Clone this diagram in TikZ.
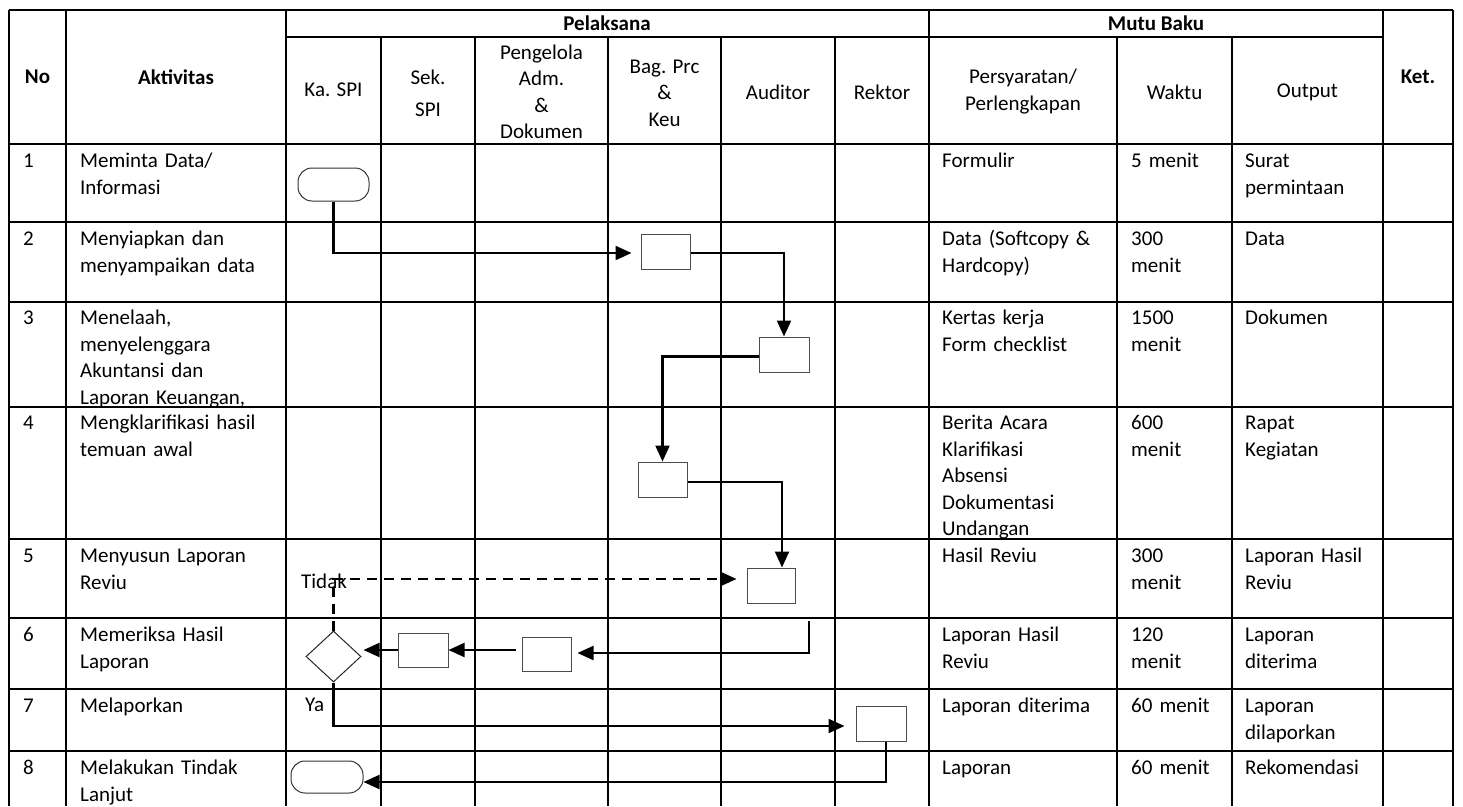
\documentclass[tikz,border=0pt]{standalone}
\usepackage{fontspec}
\setmainfont{Carlito}
\usetikzlibrary{arrows.meta,calc,shapes.geometric}
\begin{document}
\begin{tikzpicture}[x=1pt,y=-1pt,
  font=\fontsize{21}{26.5}\selectfont,
  grid/.style={line width=2pt},
  cell/.style={anchor=north west, inner sep=0pt, text width=210pt, align=left},
  head/.style={inner sep=0pt, align=center},
  box/.style={draw=black!70, line width=1pt, minimum width=49pt, minimum height=35pt, inner sep=0pt},
  term/.style={draw=black!80, line width=1pt, rounded corners=14pt, minimum width=71pt, minimum height=33pt, inner sep=0pt},
  dec/.style={diamond, draw=black!85, line width=1pt, minimum width=55pt, minimum height=51pt, inner sep=0pt},
  conn/.style={line width=2.2pt, -{Triangle[length=16pt,width=14pt]}},
  dconn/.style={conn, dash pattern=on 10pt off 7pt},
]
\useasboundingbox (0,0) rectangle (1463,806);
\fill[white] (0,0) rectangle (1463,806);

% ---------- grid ----------
\foreach \yy in {10,144,222,302,407,539,618,689,751}
  \draw[grid] (9,\yy) -- (1453,\yy);
\draw[grid] (286,37) -- (1383,37);
\foreach \xx in {9,66,286,929,1383,1453}
  \draw[grid] (\xx,10) -- (\xx,806);
\foreach \xx in {381,475,608,721,835,1117,1232}
  \draw[grid] (\xx,37) -- (\xx,806);

% ---------- header ----------
\node[head] (hNo)  at (37.5,77) {\textbf{No}};
\node[head] (hAkt) at (176,77) {\textbf{Aktivitas}};
\node[head] (hPel) at (607,23.5) {\textbf{Pelaksana}};
\node[head] (hMut) at (1156,23.5) {\textbf{Mutu Baku}};
\node[head] (hKet) at (1418,77) {\textbf{Ket.}};
\node[head] (hKa)  at (333.5,90) {Ka. SPI};
\node[head] (hSek) at (428,93.5) {Sek.\\[6pt]SPI};
\node[head] (hPen) at (541.5,92) {Pengelola\\Adm.\\\&\\Dokumen};
\node[head] (hBag) at (664.5,93) {Bag. Prc\\\&\\Keu};
\node[head] (hAud) at (778,92) {Auditor};
\node[head] (hRek) at (882,92) {Rektor};
\node[head] (hPer) at (1023,91.5) {Persyaratan/\\Perlengkapan};
\node[head] (hWak) at (1174.5,92) {Waktu};
\node[head] (hOut) at (1307.5,92) {Output};

% ---------- rows ----------
% row 1
\node[cell] (n1) at (23,149) {\strut 1};
\node[cell] (a1) at (80,149) {\strut Meminta Data/\\Informasi};
\node[cell] (p1) at (942,149) {\strut Formulir};
\node[cell] (w1) at (1131,149) {\strut 5 menit};
\node[cell] (o1) at (1245,149) {\strut Surat\\permintaan};
% row 2
\node[cell] (n2) at (23,227) {\strut 2};
\node[cell] (a2) at (80,227) {\strut Menyiapkan dan\\menyampaikan data};
\node[cell] (p2) at (942,227) {\strut Data (Softcopy \&\\Hardcopy)};
\node[cell] (w2) at (1131,227) {\strut 300\\menit};
\node[cell] (o2) at (1245,227) {\strut Data};
% row 3
\node[cell] (n3) at (23,306) {\strut 3};
\node[cell] (a3) at (80,306) {\strut Menelaah,\\menyelenggara\\Akuntansi dan\\Laporan Keuangan,};
\node[cell] (p3) at (942,306) {\strut Kertas kerja\\Form checklist};
\node[cell] (w3) at (1131,306) {\strut 1500\\menit};
\node[cell] (o3) at (1245,306) {\strut Dokumen};
% row 4
\node[cell] (n4) at (23,411) {\strut 4};
\node[cell] (a4) at (80,411) {\strut Mengklarifikasi hasil\\temuan awal};
\node[cell] (p4) at (942,411) {\strut Berita Acara\\Klarifikasi\\Absensi\\Dokumentasi\\Undangan};
\node[cell] (w4) at (1131,411) {\strut 600\\menit};
\node[cell] (o4) at (1245,411) {\strut Rapat\\Kegiatan};
% row 5
\node[cell] (n5) at (23,544) {\strut 5};
\node[cell] (a5) at (80,544) {\strut Menyusun Laporan\\Reviu};
\node[cell] (p5) at (942,544) {\strut Hasil Reviu};
\node[cell] (w5) at (1131,544) {\strut 300\\menit};
\node[cell] (o5) at (1245,544) {\strut Laporan Hasil\\Reviu};
% row 6
\node[cell] (n6) at (23,623) {\strut 6};
\node[cell] (a6) at (80,623) {\strut Memeriksa Hasil\\Laporan};
\node[cell] (p6) at (942,623) {\strut Laporan Hasil\\Reviu};
\node[cell] (w6) at (1131,623) {\strut 120\\menit};
\node[cell] (o6) at (1245,623) {\strut Laporan\\diterima};
% row 7
\node[cell] (n7) at (23,694) {\strut 7};
\node[cell] (a7) at (80,694) {\strut Melaporkan};
\node[cell] (p7) at (942,694) {\strut Laporan diterima};
\node[cell] (w7) at (1131,694) {\strut 60 menit};
\node[cell] (o7) at (1245,694) {\strut Laporan\\dilaporkan};
% row 8
\node[cell] (n8) at (23,756) {\strut 8};
\node[cell] (a8) at (80,756) {\strut Melakukan Tindak\\Lanjut};
\node[cell] (p8) at (942,756) {\strut Laporan};
\node[cell] (w8) at (1131,756) {\strut 60 menit};
\node[cell] (o8) at (1245,756) {\strut Rekomendasi};

% ---------- flow shapes ----------
\node[term] (t1) at (333.5,184.5) {};
\node[box] (b2) at (665.5,251.5) {};
\node[box, minimum width=50pt] (b3) at (784,354.5) {};
\node[box] (b4) at (662.5,479.5) {};
\node[box, minimum width=48pt] (b5) at (771,585.5) {};
\node[dec] (d6) at (333.5,656.5) {};
\node[box, minimum width=50pt, minimum height=34pt] (b6a) at (423,650) {};
\node[box, minimum height=34pt] (b6b) at (546.5,654) {};
\node[box, minimum width=50pt] (b7) at (881,723.5) {};
\node[term, minimum width=72pt, minimum height=32pt] (t8) at (327,777) {};
\coordinate (c5) at (809,621);

% ---------- labels ----------
\node[anchor=west, inner sep=0pt] (lTidak) at (301,581) {Tidak};
\node[anchor=west, inner sep=0pt] (lYa) at (305,705) {Ya};

% ---------- connectors ----------
\draw[conn, shorten >=9pt] (t1.south) |- ([yshift=-1.5pt]b2.west);
\draw[conn] ([yshift=-1.5pt]b2.east) -| (b3.north);
\draw[conn] ([yshift=-2pt]b3.west) -| (b4.north);
\draw[conn] ([yshift=-2.5pt]b4.east) -| ([xshift=11pt]b5.north);
\draw[dconn, shorten >=10pt] (d6.north) |- ([yshift=6.5pt]b5.west);
\draw[conn, shorten >=6pt] (c5) |- ([yshift=1pt]b6b.east);
\draw[conn, shorten <=6pt] (b6b.west |- b6a.east) -- (b6a.east);
\draw[conn, shorten >=2pt] (b6a.west) -- (b6a.west -| d6.east);
\draw[conn, shorten >=11pt] (d6.south) |- ([yshift=-2.5pt]b7.west);
\draw[conn] ([xshift=5pt]b7.south) |- ([yshift=-5pt]t8.east);
\end{tikzpicture}
\end{document}
